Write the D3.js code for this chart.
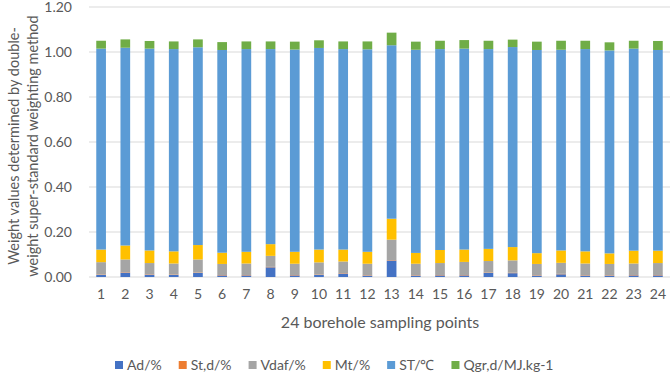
<!DOCTYPE html>
<html>
<head>
<meta charset="utf-8">
<script src="https://cdn.jsdelivr.net/npm/d3@7"></script>
<style>
  body { margin: 0; background: #fff; }
  text { font-family: Lato, "Open Sans", sans-serif; fill: #595959; }
</style>
</head>
<body>
<div id="chart"></div>
<script>
// borehole sampling points
var points = d3.range(1, 25).map(String);

// weights per index
var ad   = [0.009,0.019,0.010,0.009,0.018,0.007,0.007,0.043,0.007,0.009,0.015,0.006,0.073,0.006,0.007,0.007,0.018,0.017,0.006,0.012,0.006,0.006,0.007,0.007];
var std  = [0.002,0.002,0.002,0.002,0.002,0.002,0.002,0.002,0.002,0.002,0.002,0.002,0.002,0.002,0.002,0.002,0.002,0.002,0.002,0.002,0.002,0.002,0.002,0.002];
var vdaf = [0.055,0.057,0.050,0.049,0.058,0.049,0.051,0.049,0.050,0.054,0.052,0.051,0.091,0.051,0.053,0.058,0.051,0.055,0.050,0.049,0.052,0.050,0.051,0.053];
var mt   = [0.056,0.062,0.056,0.054,0.064,0.050,0.052,0.052,0.053,0.057,0.053,0.053,0.093,0.048,0.058,0.055,0.054,0.059,0.048,0.055,0.054,0.047,0.057,0.055];
var st   = [0.893,0.879,0.897,0.899,0.879,0.901,0.901,0.867,0.899,0.896,0.891,0.900,0.771,0.903,0.893,0.893,0.888,0.889,0.903,0.892,0.899,0.902,0.898,0.892];
var qgr  = [0.035,0.037,0.034,0.034,0.035,0.035,0.034,0.034,0.035,0.034,0.034,0.035,0.056,0.036,0.037,0.038,0.037,0.033,0.037,0.040,0.037,0.036,0.035,0.040];

var seriesNames = ["Ad/%", "St,d/%", "Vdaf/%", "Mt/%", "ST/\u2103", "Qgr,d/MJ.kg-1"];
var seriesColors = ["#4472C4", "#ED7D31", "#A5A5A5", "#FFC000", "#5B9BD5", "#70AD47"];
var yTicks = [0, 0.2, 0.4, 0.6, 0.8, 1.0, 1.2];

var table = points.map(function (p, i) {
  return { point: p, "Ad/%": ad[i], "St,d/%": std[i], "Vdaf/%": vdaf[i], "Mt/%": mt[i], "ST/\u2103": st[i], "Qgr,d/MJ.kg-1": qgr[i] };
});

var W = 671, H = 377;
var margin = { top: 7, right: 1, left: 89 },
  width = W - margin.left - margin.right,
  height = 277 - margin.top;

var svg = d3.select("#chart")
  .append("svg")
  .attr("width", W)
  .attr("height", H);

var g = svg.append("g")
  .attr("transform", "translate(" + margin.left + "," + margin.top + ")");

var x = d3.scaleBand()
  .domain(points)
  .range([0, width])
  .paddingInner(0.6)
  .paddingOuter(0.3);

var y = d3.scaleLinear()
  .domain([0, 1.2])
  .range([height, 0]);

// gridlines
g.append("g")
  .selectAll("line")
  .data(yTicks)
  .enter()
  .append("line")
  .attr("x1", 0)
  .attr("x2", width)
  .attr("y1", function (d) { return y(d); })
  .attr("y2", function (d) { return y(d); })
  .attr("stroke", "#d9d9d9")
  .attr("stroke-width", 1);

// Y axis labels
var yAxis = g.append("g")
  .call(d3.axisLeft(y).tickValues(yTicks).tickFormat(d3.format(".2f")).tickSize(0).tickPadding(17));
yAxis.select(".domain").remove();
yAxis.selectAll("text").style("font-size", "14px").attr("fill", "#595959");

// X axis labels
var xAxis = g.append("g")
  .attr("transform", "translate(0," + height + ")")
  .call(d3.axisBottom(x).tickSize(0).tickPadding(12));
xAxis.select(".domain").remove();
xAxis.selectAll("text").style("font-size", "14px").attr("fill", "#595959");

// stacked bars
var stack = d3.stack().keys(seriesNames);
var layers = stack(table);

g.append("g")
  .selectAll("g")
  .data(layers)
  .enter()
  .append("g")
  .attr("fill", function (d, i) { return seriesColors[i]; })
  .selectAll("rect")
  .data(function (d) { return d; })
  .enter()
  .append("rect")
  .attr("x", function (d) { return x(d.data.point); })
  .attr("y", function (d) { return y(d[1]); })
  .attr("width", x.bandwidth())
  .attr("height", function (d) { return y(d[0]) - y(d[1]); });

// axis titles
svg.append("text")
  .attr("x", 380)
  .attr("y", 328)
  .attr("text-anchor", "middle")
  .style("font-size", "16px")
  .text("24 borehole sampling points");

var yTitle = svg.append("text")
  .attr("transform", "translate(0,146) rotate(-90)")
  .attr("text-anchor", "middle")
  .style("font-size", "14.5px");
yTitle.append("tspan").attr("x", 0).attr("y", 19).text("Weight values determined by double-");
yTitle.append("tspan").attr("x", 0).attr("y", 38).text("weight super-standard weighting method");

// legend
var legend = svg.append("g").attr("transform", "translate(115,370)");
var lx = 0;
var items = legend.selectAll("g")
  .data(seriesNames)
  .enter()
  .append("g");
items.append("rect")
  .attr("y", -9)
  .attr("width", 8)
  .attr("height", 8)
  .attr("fill", function (d, i) { return seriesColors[i]; });
items.append("text")
  .attr("x", 12)
  .attr("y", 0)
  .style("font-size", "14px")
  .text(function (d) { return d; });
items.each(function () {
  var t = d3.select(this).select("text").node().getComputedTextLength();
  d3.select(this).attr("transform", "translate(" + lx + ",0)");
  lx += 12 + t + 17;
});
</script>
</body>
</html>
